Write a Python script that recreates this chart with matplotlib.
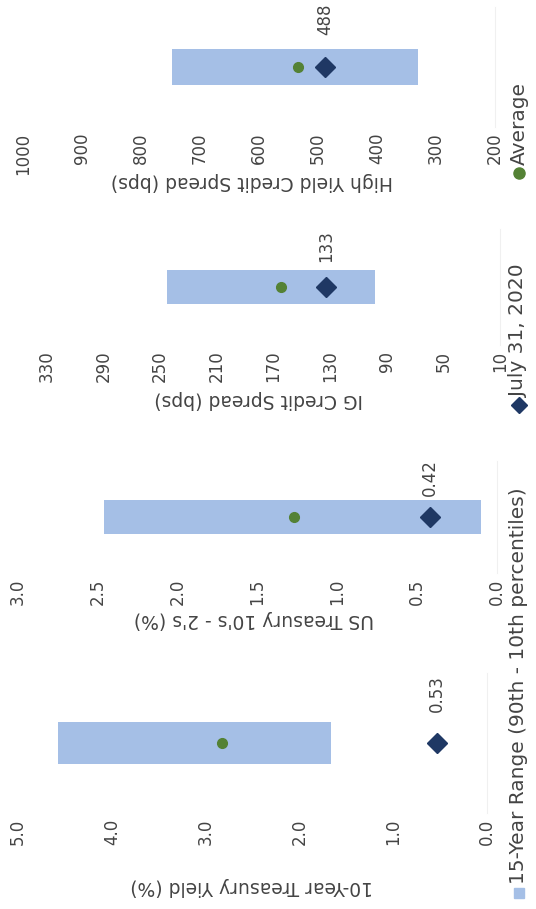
import matplotlib
matplotlib.use('Agg')
import matplotlib.pyplot as plt
from matplotlib.lines import Line2D

plt.rcParams['font.family'] = ['DejaVu Sans']

# Valores de cada indicador: rango de 15 años (percentil 10 a 90), promedio y dato actual
metrics = ["10-Year Treasury Yield (%)", "US Treasury 10's - 2's (%)",
           "IG Credit Spread (bps)", "High Yield Credit Spread (bps)"]
range_low = [1.66, 0.10, 98, 331]
range_high = [4.57, 2.46, 245, 748]
average = [2.82, 1.27, 165, 534]
current = [0.53, 0.42, 133, 488]
current_labels = ["0.53", "0.42", "133", "488"]

axis_min = [0.0, 0.0, 10, 200]
axis_max = [5.0, 3.0, 330, 1000]
axis_step = [1.0, 0.5, 40, 100]
tick_fmt = ['{:.1f}', '{:.1f}', '{:.0f}', '{:.0f}']

legend_labels = ["15-Year Range (90th - 10th percentiles)", "July 31, 2020", "Average"]

BAR = '#a5bfe6'
GREEN = '#548235'
NAVY = '#1f3864'
TEXT = '#444444'

# posiciones de cada panel en la figura [left, bottom, width, height]
rects = [
    [0.0336, 0.1056, 0.875, 0.154],
    [0.0336, 0.3696, 0.8937, 0.1232],
    [0.0877, 0.6205, 0.845, 0.1276],
    [0.0429, 0.8603, 0.8806, 0.132],
]
label_pos = [(0.499, -0.457), (0.493, -0.33), (0.468, -0.388), (0.485, -0.375)]
label_offset = [22, 15, 18, 23]

fig = plt.figure(figsize=(5.36, 9.09), dpi=100)

for i in range(len(metrics)):
    ax = fig.add_axes(rects[i])
    ax.barh(0, range_high[i] - range_low[i], left=range_low[i], height=0.6,
            color=BAR, zorder=1)
    ax.plot(average[i], 0, marker='o', markersize=7, color=GREEN,
            linestyle='none', zorder=3)
    ax.plot(current[i], 0, marker='D', markersize=10, color=NAVY,
            linestyle='none', zorder=4)
    ax.annotate(current_labels[i], (current[i], 0), xytext=(0, label_offset[i]),
                textcoords='offset points', rotation=90, ha='center', va='bottom',
                fontsize=12, color=TEXT)

    ticks = []
    t = axis_min[i]
    while t <= axis_max[i] + 1e-9:
        ticks.append(t)
        t += axis_step[i]
    ax.set_xticks(ticks)
    ax.set_xticklabels([tick_fmt[i].format(v) for v in ticks])
    ax.set_xlim(axis_max[i], axis_min[i])
    ax.set_ylim(-1, 1)
    ax.set_yticks([])
    ax.tick_params(axis='x', length=0, pad=4, labelrotation=90,
                   labelsize=12, labelcolor=TEXT)

    for side in ['top', 'bottom', 'left']:
        ax.spines[side].set_visible(False)
    ax.spines['right'].set_color('#f0f0f0')

    ax.set_xlabel(metrics[i], rotation=180, fontsize=13.5, color=TEXT)
    ax.xaxis.set_label_coords(*label_pos[i])

# leyenda girada en el margen derecho
leg_x = 0.968
leg_marker_y = [0.0176, 0.5545, 0.8097]
leg_text_y = [0.0275, 0.563, 0.8185]
leg_markers = [('s', BAR, 7), ('D', NAVY, 8), ('o', GREEN, 8)]
for (m, c, s), my, ty, lab in zip(leg_markers, leg_marker_y, leg_text_y, legend_labels):
    fig.add_artist(Line2D([leg_x], [my], marker=m, color=c, markersize=s,
                          linestyle='none', transform=fig.transFigure))
    fig.text(leg_x, ty, lab, rotation=90, rotation_mode='anchor',
             ha='left', va='center', fontsize=14.5, color=TEXT)

plt.savefig('out.png', dpi=100, facecolor='white')
